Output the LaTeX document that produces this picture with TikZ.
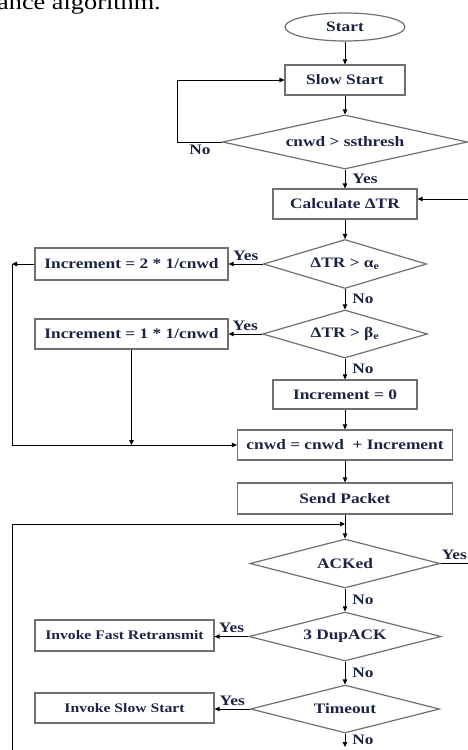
\documentclass[tikz,border=0pt]{standalone}
\usepackage{fontspec}
\newfontfamily\chartfont{Liberation Serif}[FakeStretch=1.2]
\usepackage{tikz}
\usetikzlibrary{arrows.meta,shapes.geometric}
\usepackage{xcolor}
\definecolor{flownavy}{RGB}{28,36,68}
\definecolor{flowgray}{RGB}{112,112,112}

\begin{document}
\begin{tikzpicture}[
  x=1bp,y=-1bp,
  font=\chartfont\bfseries\fontsize{14.5}{16}\selectfont,
  >={Triangle[length=5bp,width=4.5bp]},
  block/.style={draw=flowgray,line width=1.2bp,text=flownavy,
    minimum height=30bp,inner sep=2bp},
  smallblock/.style={block,font=\chartfont\bfseries\fontsize{13.1}{15}\selectfont},
  terminal/.style={ellipse,draw=flowgray,line width=1.2bp,text=flownavy,
    minimum width=120bp,minimum height=28bp,inner sep=0pt},
  decision/.style={diamond,aspect=3.5,draw=flowgray,line width=1.2bp,
    text=flownavy,inner sep=0pt},
  arrow/.style={->,line width=0.9bp,black},
  line/.style={line width=0.9bp,black},
  lbl/.style={text=flownavy,inner sep=3bp}
]
  \useasboundingbox (0,0) rectangle (468,750);

  \node[anchor=base west,inner sep=0pt,
    font=\chartfont\mdseries\fontsize{22}{24}\selectfont] (title) at (-3,10)
    {ance algorithm.};

  \node[terminal] (start) at (345,27) {Start};
  \node[block,minimum width=120bp] (slow) at (345,80) {Slow Start};
  \node[decision,minimum width=245bp,minimum height=54bp] (cwndchk) at (345,142)
    {cnwd > ssthresh};
  \node[block,minimum width=144bp] (calc) at (345,204) {Calculate ΔTR};

  \node[decision,minimum width=163bp,minimum height=49bp] (alphachk) at (345,264)
    {ΔTR > α\textsubscript{e}};
  \node[block,minimum width=193bp,minimum height=32bp] (inctwo) at (131.5,264)
    {Increment = 2 * 1/cnwd};
  \node[decision,minimum width=165bp,minimum height=48bp] (betachk) at (345,334)
    {ΔTR > β\textsubscript{e}};
  \node[block,minimum width=193bp] (incone) at (131.5,334)
    {Increment = 1 * 1/cnwd};
  \node[block,minimum width=144bp,minimum height=29bp] (inczero) at (345,394.5)
    {Increment = 0};
  \node[block,minimum width=215bp] (update) at (345,445)
    {cnwd = cnwd\ \ + Increment};
  \node[block,minimum width=215bp,minimum height=31bp] (send) at (345,498.5)
    {Send Packet};

  \node[decision,minimum width=190bp,minimum height=49bp] (acked) at (345,563.5)
    {ACKed};
  \node[decision,minimum width=192bp,minimum height=49bp] (dupack) at (345,636.5)
    {3 DupACK};
  \node[smallblock,minimum width=179bp,minimum height=31bp] (fastre) at (124.5,635.5)
    {Invoke Fast Retransmit};
  \node[decision,minimum width=189bp,minimum height=48bp] (timeout) at (345,709)
    {Timeout};
  \node[smallblock,minimum width=179bp] (slowre) at (124.5,708)
    {Invoke Slow Start};

  % free ends of the connectors
  \coordinate (loopin) at (468,199);
  \coordinate (lefttop) at (12,264);
  \coordinate (leftbot) at (12,750);
  \coordinate (merge) at (345,524);
  \coordinate (ackout) at (468,563.5);
  \coordinate (tail) at (345,747);

  \draw[arrow] (start) -- (slow);
  \draw[arrow] (slow) -- (cwndchk);
  \draw[arrow] (cwndchk.west) -- ++(-44,0) node[lbl,midway,below] {No}
    |- (slow.west);
  \draw[arrow] (cwndchk) -- node[lbl,midway,right=4bp] {Yes} (calc);
  \draw[arrow] (loopin) -- (loopin -| calc.east);
  \draw[arrow] (calc) -- (alphachk);

  \draw[arrow] (alphachk.west) -- node[lbl,midway,above] {Yes}
    (alphachk.west -| inctwo.east);
  \draw[arrow] (inctwo.west) -- (lefttop);
  \draw[arrow] (lefttop) |- (update.west);
  \draw[arrow] (alphachk) -- node[lbl,midway,right=4bp] {No} (betachk);
  \draw[arrow] (betachk.west) -- node[lbl,midway,above] {Yes}
    (betachk.west -| incone.east);
  \draw[arrow] (incone.south) -- (incone.south |- update.west);
  \draw[arrow] (betachk) -- node[lbl,midway,right=4bp] {No} (inczero);
  \draw[arrow] (inczero) -- (update);
  \draw[arrow] (update) -- (send);
  \draw[arrow] (send) -- (acked);
  \draw[arrow] (leftbot) |- (merge);

  \draw[line] (acked.east) -- node[lbl,midway,above] {Yes} (ackout);
  \draw[arrow] (acked) -- node[lbl,midway,right=4bp] {No} (dupack);
  \draw[arrow] (dupack.west) -- node[lbl,midway,above] {Yes}
    (dupack.west -| fastre.east);
  \draw[arrow] (dupack) -- node[lbl,midway,right=4bp] {No} (timeout);
  \draw[arrow] (timeout.west) -- node[lbl,midway,above] {Yes}
    (timeout.west -| slowre.east);
  \draw[arrow] (timeout) -- node[lbl,midway,right=4bp] {No} (tail);
\end{tikzpicture}
\end{document}
